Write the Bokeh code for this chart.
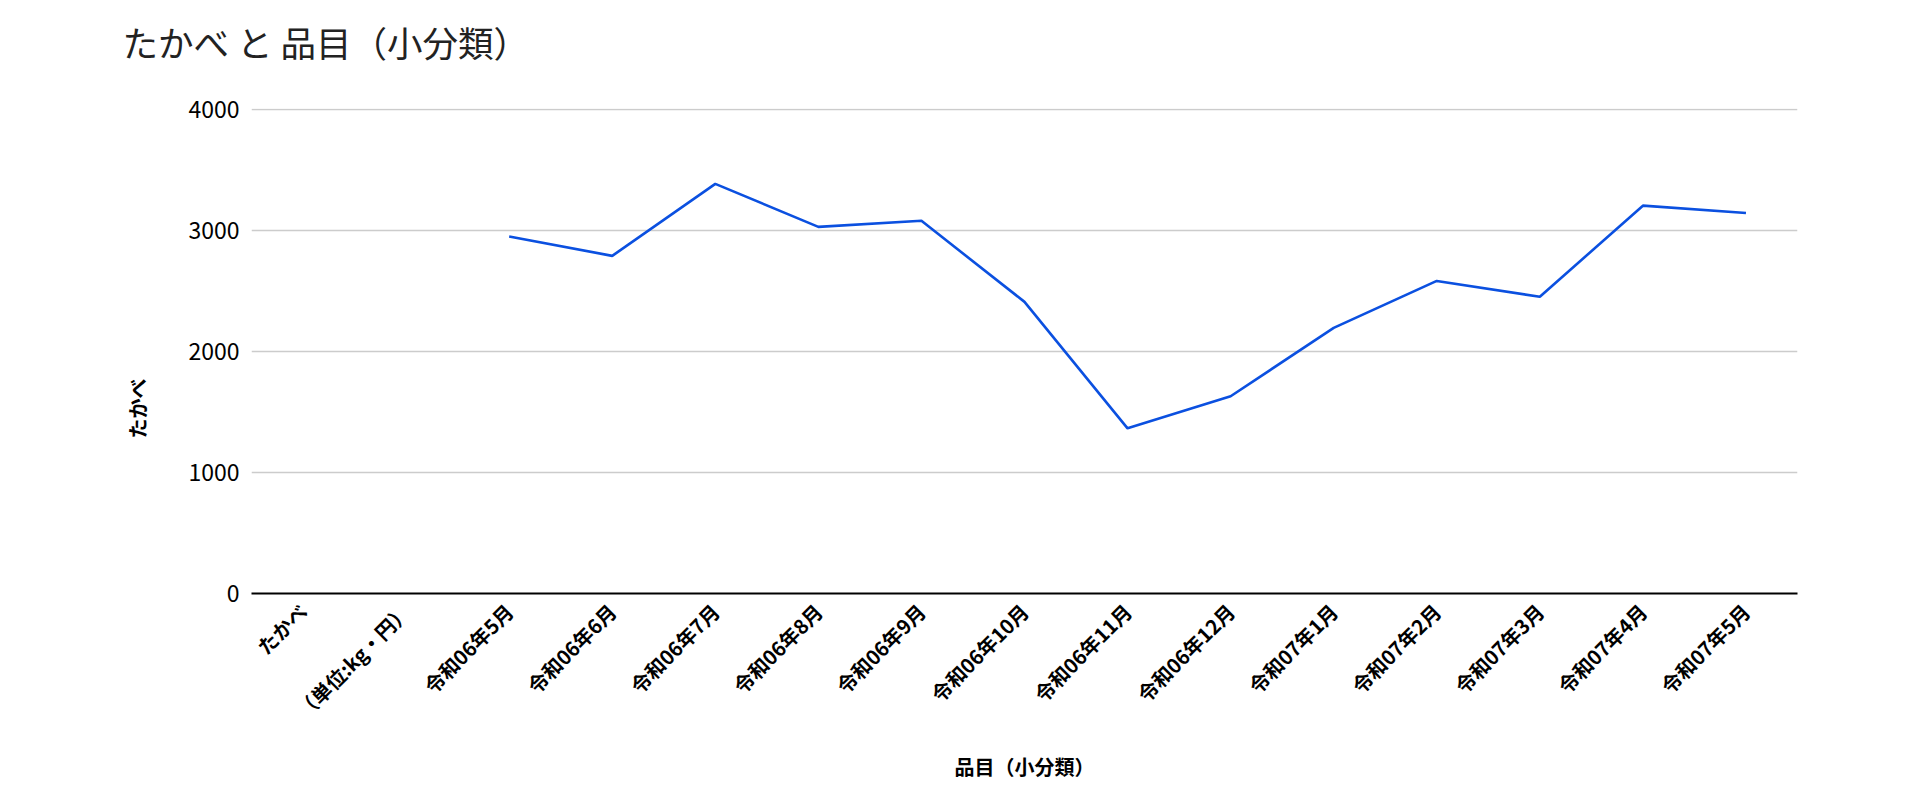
from bokeh.plotting import figure
from bokeh.models import FactorRange, Range1d, FixedTicker, ColumnDataSource, Title
from bokeh.layouts import column
from bokeh.embed import file_html
from bokeh.resources import INLINE
import math

categories = ["たかべ", "（単位:kg・円）",
              "令和06年5月", "令和06年6月", "令和06年7月", "令和06年8月",
              "令和06年9月", "令和06年10月", "令和06年11月", "令和06年12月",
              "令和07年1月", "令和07年2月", "令和07年3月", "令和07年4月", "令和07年5月"]
months = categories[2:]
prices = [2950, 2790, 3385, 3030, 3080, 2410, 1365, 1630, 2195, 2583, 2452, 3205, 3144]
y_ticks = [0, 1000, 2000, 3000, 4000]
chart_title = "たかべ と 品目（小分類）"

FONT = "Noto Sans CJK JP"
W = 1904
HT = 90          # height of the title strip
H = 784 - HT     # height of the chart

# ---- title strip (its frame is aligned with the chart's frame by the column) ----
t = figure(width=W, height=HT, x_range=Range1d(0, 1), y_range=Range1d(0, 1),
           x_axis_type=None, y_axis_type=None,
           output_backend="svg", toolbar_location=None,
           min_border_left=0, min_border_right=0, min_border_top=0, min_border_bottom=0)
t.outline_line_color = None
t.background_fill_color = "white"
t.border_fill_color = "white"
t.xgrid.visible = False
t.ygrid.visible = False
t.title.text = chart_title
t.title.text_font = FONT
t.title.text_font_size = "35.5px"
t.title.text_font_style = "normal"
t.title.text_color = "#222222"
t.title.align = "left"
t.title.offset = -129
t.title.vertical_align = "bottom"
t.title.standoff = 26

# ---- chart ----
p = figure(x_range=FactorRange(factors=categories, range_padding=0),
           y_range=Range1d(0, 4008),
           width=W, height=H, title=None,
           output_backend="svg", toolbar_location=None,
           min_border_left=251, min_border_right=107,
           min_border_top=108 - HT, min_border_bottom=189)

src = ColumnDataSource(dict(x=months, y=prices))
p.line(x="x", y="y", source=src, line_color="#0b50e0", line_width=2.6)

p.outline_line_color = None
p.background_fill_color = "white"
p.border_fill_color = "white"

# grid
p.xgrid.grid_line_color = None
p.ygrid.grid_line_color = "#cccccc"
p.ygrid.grid_line_width = 1.5
p.yaxis.ticker = FixedTicker(ticks=y_ticks)

# y axis
p.yaxis.axis_line_color = None
p.yaxis.major_tick_line_color = None
p.yaxis.minor_tick_line_color = None
p.yaxis.major_tick_out = 0
p.yaxis.major_label_text_font = FONT
p.yaxis.major_label_text_font_size = "23px"
p.yaxis.major_label_text_color = "#000000"
p.yaxis.major_label_standoff = 12

# y axis title as a side-panel title (offset downward like the reference)
ytitle = Title(text="たかべ", align="left", offset=155, standoff=68,
               text_font=FONT, text_font_size="20px", text_font_style="bold",
               text_color="#000000")
p.add_layout(ytitle, "left")

# x axis
p.xaxis.axis_line_color = "#000000"
p.xaxis.axis_line_width = 2
p.xaxis.major_tick_line_color = None
p.xaxis.minor_tick_line_color = None
p.xaxis.major_label_orientation = math.pi / 4
p.xaxis.major_label_text_font = FONT
p.xaxis.major_label_text_font_size = "20px"
p.xaxis.major_label_text_font_style = "bold"
p.xaxis.major_label_text_color = "#000000"
p.xaxis.major_label_text_baseline = "top"
p.xaxis.major_label_standoff = 8
p.xaxis.axis_label = "品目（小分類）"
p.xaxis.axis_label_text_font = FONT
p.xaxis.axis_label_text_font_size = "20px"
p.xaxis.axis_label_text_font_style = "bold"
p.xaxis.axis_label_text_color = "#000000"
p.xaxis.axis_label_standoff = 15

layout = column(t, p, spacing=0)
open("out.html", "w").write(file_html(layout, INLINE))
